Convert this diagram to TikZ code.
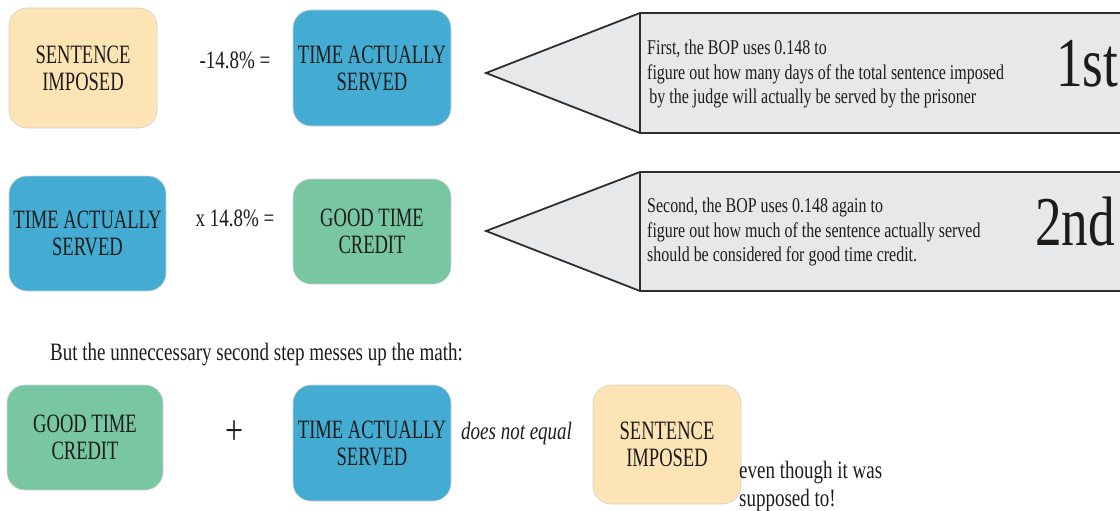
\documentclass[tikz,border=0pt]{standalone}
\usepackage{graphicx}
\usepackage{fontspec}
\setmainfont{Liberation Serif}
\definecolor{peach}{HTML}{FDE4B4}
\definecolor{tblue}{HTML}{44ACD3}
\definecolor{tgreen}{HTML}{79C7A2}
\definecolor{agray}{HTML}{E7E8EA}
\definecolor{aline}{HTML}{2E2E2E}
\definecolor{ink}{HTML}{1C1C1C}
\newcommand{\sqc}[1]{\scalebox{0.76}[1]{\begin{tabular}{@{}c@{}}#1\end{tabular}}}
\newcommand{\sql}[1]{\scalebox{0.76}[1]{\begin{tabular}{@{}l@{}}#1\end{tabular}}}
\newcommand{\sqb}[1]{\scalebox{0.70}[1]{\begin{tabular}{@{}c@{}}\rule{0pt}{25.6pt}#1\end{tabular}}}
\begin{document}
\begin{tikzpicture}[x=1pt,y=-1pt,
  box/.style={rounded corners=18pt, draw=black!18, line width=0.6pt, align=center,
    inner sep=0pt, text=ink, font=\fontsize{26.5}{27}\selectfont},
  peachbox/.style={box, fill=peach},
  bluebox/.style={box, fill=tblue},
  greenbox/.style={box, fill=tgreen},
  arrowshape/.style={fill=agray, draw=aline, line width=1.8pt, line join=miter},
  steptext/.style={anchor=west, inner sep=0pt, text=ink, font=\fontsize{21}{24.5}\selectfont},
  bigtext/.style={anchor=west, inner sep=0pt, text=ink, font=\fontsize{70}{70}\selectfont},
  plain/.style={inner sep=0pt, text=ink, font=\fontsize{25}{28}\selectfont}
]
\useasboundingbox (0,0) rectangle (1120,511);

% row 1
\node[peachbox, minimum width=148pt, minimum height=120pt] (si1) at (83,68) {\sqb{SENTENCE\\IMPOSED}};
\node[plain] (op1) at (235,62.5) {\sqc{-14.8\% =}};
\node[bluebox, minimum width=158pt, minimum height=116pt] (tas1) at (372,68) {\sqb{TIME ACTUALLY\\SERVED}};

% row 2
\node[bluebox, minimum width=157pt, minimum height=115pt] (tas2) at (87.5,233.5) {\sqb{TIME ACTUALLY\\SERVED}};
\node[plain] (op2) at (235,220.5) {\sqc{x 14.8\% =}};
\node[greenbox, minimum width=158pt, minimum height=105pt] (gtc2) at (372,231.5) {\sqb{GOOD TIME\\CREDIT}};

% arrows
\draw[arrowshape] (486,73) -- (640,13) -- (1125,13) -- (1125,133) -- (640,133) -- cycle;
\draw[draw=aline, line width=1.8pt] (640,13) -- (640,133);
\node[steptext] (t1) at (647,74.5) {\sql{First, the BOP uses 0.148 to\\figure out how many days of the total sentence imposed\\\hspace{3pt}by the judge will actually be served by the prisoner}};
\node[bigtext] (n1) at (1056,73) {\sql{1st}};

\draw[arrowshape] (486,231) -- (640,172) -- (1125,172) -- (1125,291) -- (640,291) -- cycle;
\draw[draw=aline, line width=1.8pt] (640,172) -- (640,291);
\node[steptext] (t2) at (647,232.5) {\sql{Second, the BOP uses 0.148 again to\\figure out how much of the sentence actually served\\should be considered for good time credit.}};
\node[bigtext] (n2) at (1035,231) {\sql{2nd}};

% bottom
\node[plain, anchor=west] (but) at (50,354.5) {\sql{But the unneccessary second step messes up the math:}};
\node[greenbox, minimum width=156pt, minimum height=105pt] (gtc3) at (85,437.5) {\sqb{GOOD TIME\\CREDIT}};
\node[plain, font=\fontsize{42}{42}\selectfont] (plus) at (234,436) {\sqc{+}};
\node[bluebox, minimum width=158pt, minimum height=116pt] (tas3) at (372,443) {\sqb{TIME ACTUALLY\\SERVED}};
\node[plain, anchor=west, font=\fontsize{25}{28}\selectfont\itshape] (neq) at (461,433.5) {\sql{does not equal}};
\node[peachbox, minimum width=148pt, minimum height=119pt] (si3) at (667,444.5) {\sqb{SENTENCE\\IMPOSED}};
\node[plain, anchor=west, font=\fontsize{25}{28}\selectfont] (even) at (739,487) {\sql{even though it was\\supposed to!}};
\end{tikzpicture}
\end{document}
